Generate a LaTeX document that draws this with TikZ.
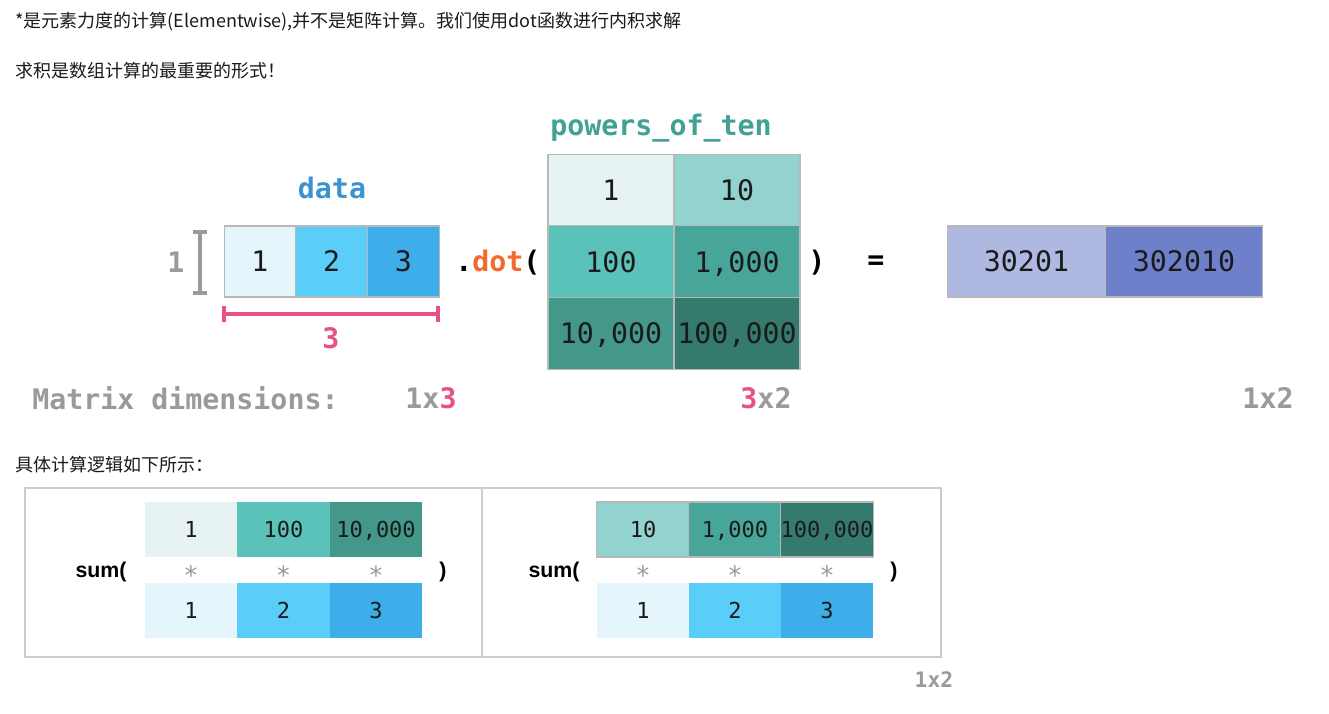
\documentclass[tikz,border=0pt]{standalone}
\usepackage{fontspec}
\setmainfont{Liberation Sans}
\newfontfamily\cjk{Noto Sans CJK SC}
\newfontfamily\mono{DejaVu Sans Mono}
\definecolor{dA}{HTML}{E4F5FC}
\definecolor{dB}{HTML}{5BCDF9}
\definecolor{dC}{HTML}{3EAEEA}
\definecolor{pA}{HTML}{E6F3F2}
\definecolor{pB}{HTML}{93D3CF}
\definecolor{pC}{HTML}{5BC2B9}
\definecolor{pD}{HTML}{48A59A}
\definecolor{pE}{HTML}{43988A}
\definecolor{pF}{HTML}{357B6D}
\definecolor{rA}{HTML}{AFB8E1}
\definecolor{rB}{HTML}{6F80CB}
\definecolor{lblue}{HTML}{3C93CF}
\definecolor{lteal}{HTML}{43A094}
\definecolor{lorange}{HTML}{F26A2C}
\definecolor{lpink}{HTML}{E9508A}
\definecolor{lgray}{HTML}{9A9A9A}
\definecolor{cellline}{HTML}{B8B8B8}
\definecolor{boxline}{HTML}{CCCCCC}
\definecolor{txt}{HTML}{1A1A1A}
\begin{document}
\begin{tikzpicture}[x=0.75pt,y=-0.75pt,
  note/.style={anchor=base west,inner sep=0,font=\cjk\fontsize{13.5}{16}\selectfont,text=txt},
  bigcell/.style={draw=cellline,line width=0.8pt,inner sep=0,outer sep=0,text=txt,
    text height=15.5pt,text depth=0pt,
    font=\mono\fontsize{21.2}{21.2}\selectfont},
  smallcell/.style={inner sep=0,outer sep=0,text=txt,minimum width=92.3*0.75pt,minimum height=55*0.75pt,
    text height=12pt,text depth=0pt,
    font=\mono\fontsize{16.5}{16.5}\selectfont},
  biglabel/.style={inner sep=0,font=\mono\bfseries\fontsize{21.2}{21.2}\selectfont},
  star/.style={inner sep=0,text=lgray,font=\mono\fontsize{19}{19}\selectfont},
  sumtxt/.style={inner sep=0,text=black,font=\bfseries\fontsize{16}{16}\selectfont},
  bar/.style={line width=3pt}]
\useasboundingbox (0,0) rectangle (1329,714);
% notes
\node[note] (n1) at (15,27) {*是元素力度的计算(Elementwise),并不是矩阵计算。我们使用dot函数进行内积求解};
\node[note] (n2) at (15,77) {求积是数组计算的最重要的形式！};
\node[note] (n3) at (15,471) {具体计算逻辑如下所示：};
% data
\node[biglabel,text=lblue] (datalbl) at (332,188) {data};
\begin{scope}[every node/.style={bigcell,minimum width=71.7*0.75pt,minimum height=71*0.75pt}]
\node[fill=dA] (d1) at (260,261.5) {1};
\node[fill=dB] (d2) at (331.7,261.5) {2};
\node[fill=dC] (d3) at (403.4,261.5) {3};
\end{scope}
\node[biglabel,text=lgray] (one) at (176,262) {1};
\draw[bar,lgray] (200,232) -- (200,293);
\draw[bar,lgray] (193,232) -- (207,232);
\draw[bar,lgray] (193,293) -- (207,293);
\draw[bar,lpink] (224,314) -- (438,314);
\draw[bar,lpink] (224,306) -- (224,322);
\draw[bar,lpink] (438,306) -- (438,322);
\node[biglabel,text=lpink] (three) at (331,338) {3};
\node[biglabel,anchor=west] (dot) at (455,263) {.\textcolor{lorange}{dot}(};
% powers
\node[biglabel,text=lteal] (plbl) at (661,128) {powers\_of\_ten};
\begin{scope}[every node/.style={bigcell,minimum width=126*0.75pt,minimum height=71.7*0.75pt}]
\node[fill=pA] (p11) at (611,190) {1};
\node[fill=pB] (p12) at (737,190) {10};
\node[fill=pC] (p21) at (611,261.7) {100};
\node[fill=pD] (p22) at (737,261.7) {1,000};
\node[fill=pE] (p31) at (611,333.4) {10,000};
\node[fill=pF] (p32) at (737,333.4) {100,000};
\end{scope}
\node[biglabel] (rpar) at (817,263) {)};
\node[biglabel] (eq) at (876,263) {=};
% result
\begin{scope}[every node/.style={bigcell,minimum width=157.5*0.75pt,minimum height=71*0.75pt}]
\node[fill=rA] (r1) at (1026.5,261.5) {30201};
\node[fill=rB] (r2) at (1184,261.5) {302010};
\end{scope}
% dimensions
\node[biglabel,text=lgray,anchor=west] (mdim) at (32,398) {Matrix dimensions:};
\node[biglabel,text=lgray] (dim1) at (431,398) {1x\textcolor{lpink}{3}};
\node[biglabel,text=lgray] (dim2) at (766,398) {\textcolor{lpink}{3}x2};
\node[biglabel,text=lgray] (dim3) at (1268,398) {1x2};
% bottom box
\draw[boxline,line width=0.9pt] (25,488) rectangle (941,657);
\draw[boxline,line width=0.9pt] (482,488) -- (482,657);
\node[smallcell,fill=pA] (a1) at (191,529.5) {1};
\node[smallcell,fill=pC] (a2) at (283.5,529.5) {100};
\node[smallcell,fill=pE] (a3) at (376,529.5) {10,000};
\node[smallcell,fill=dA] (b1) at (191,610.5) {1};
\node[smallcell,fill=dB] (b2) at (283.5,610.5) {2};
\node[smallcell,fill=dC] (b3) at (376,610.5) {3};
\node[star] (s1) at (191,575) {*};
\node[star] (s2) at (283.5,575) {*};
\node[star] (s3) at (376,575) {*};
\node[sumtxt] (sumL) at (101,572) {sum(};
\node[sumtxt] (parL) at (443,572) {)};
\node[smallcell,fill=pB,draw=cellline,line width=0.8pt] (c1) at (643,529.5) {10};
\node[smallcell,fill=pD,draw=cellline,line width=0.8pt] (c2) at (735,529.5) {1,000};
\node[smallcell,fill=pF,draw=cellline,line width=0.8pt] (c3) at (827,529.5) {100,000};
\node[smallcell,fill=dA] (e1) at (643,610.5) {1};
\node[smallcell,fill=dB] (e2) at (735,610.5) {2};
\node[smallcell,fill=dC] (e3) at (827,610.5) {3};
\node[star] (t1) at (643,575) {*};
\node[star] (t2) at (735,575) {*};
\node[star] (t3) at (827,575) {*};
\node[sumtxt] (sumR) at (554,572) {sum(};
\node[sumtxt] (parR) at (894,572) {)};
\node[inner sep=0,text=lgray,font=\mono\bfseries\fontsize{16}{16}\selectfont] (dim4) at (934,680) {1x2};
\end{tikzpicture}
\end{document}
